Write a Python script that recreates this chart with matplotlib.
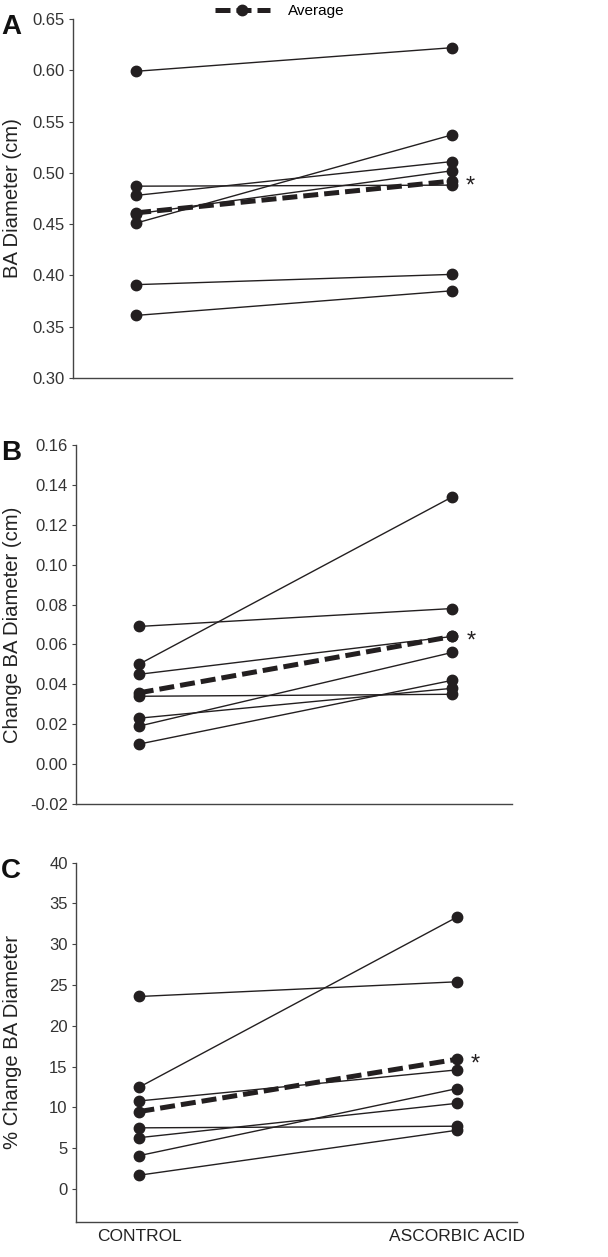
import matplotlib
matplotlib.use("Agg")
import matplotlib.pyplot as plt
from matplotlib.lines import Line2D

plt.rcParams['font.family'] = ['Liberation Sans', 'DejaVu Sans']

conditions = ["CONTROL", "ASCORBIC ACID"]

# Panel A: BA diameter (cm)
a_control = [0.599, 0.487, 0.478, 0.460, 0.451, 0.391, 0.361]
a_ascorbic = [0.622, 0.488, 0.511, 0.502, 0.537, 0.401, 0.385]
a_avg = [0.461, 0.492]

# Panel B: change BA diameter (cm)
b_control = [0.069, 0.050, 0.045, 0.034, 0.023, 0.019, 0.010]
b_ascorbic = [0.078, 0.134, 0.064, 0.035, 0.038, 0.056, 0.042]
b_avg = [0.0357, 0.064]

# Panel C: % change BA diameter
c_control = [23.6, 12.5, 10.8, 7.5, 6.3, 4.1, 1.7]
c_ascorbic = [25.4, 33.3, 14.6, 7.7, 10.5, 12.3, 7.2]
c_avg = [9.5, 15.9]

a_ticks = [0.30, 0.35, 0.40, 0.45, 0.50, 0.55, 0.60, 0.65]
b_ticks = [-0.02, 0.00, 0.02, 0.04, 0.06, 0.08, 0.10, 0.12, 0.14, 0.16]
c_ticks = [0, 5, 10, 15, 20, 25, 30, 35, 40]

col = '#231f20'
fig = plt.figure(figsize=(6.08, 12.57), dpi=100)

panels = [
    dict(pos=[0.120, 0.6993, 0.722, 0.2856], ctrl=a_control, aa=a_ascorbic, avg=a_avg,
         ticks=a_ticks, ylim=(0.30, 0.65), fmt="{:.2f}", ylabel="BA Diameter (cm)", letter="A"),
    dict(pos=[0.125, 0.3604, 0.717, 0.2856], ctrl=b_control, aa=b_ascorbic, avg=b_avg,
         ticks=b_ticks, ylim=(-0.02, 0.16), fmt="{:.2f}", ylabel="Change BA Diameter (cm)", letter="B"),
    dict(pos=[0.125, 0.0281, 0.725, 0.2856], ctrl=c_control, aa=c_ascorbic, avg=c_avg,
         ticks=c_ticks, ylim=(-4, 40), fmt="int", ylabel="% Change BA Diameter", letter="C"),
]

dash = (0, (3, 1.2))
x = [0, 1]
for i, p in enumerate(panels):
    ax = fig.add_axes(p['pos'])
    for c0, c1 in zip(p['ctrl'], p['aa']):
        ax.plot(x, [c0, c1], color=col, lw=1.0, marker='o', ms=7.5, zorder=2)
    ax.plot(x, p['avg'], color=col, lw=3.6, ls=dash, marker='o', ms=7.5, zorder=3)
    ax.annotate('*', xy=(1, p['avg'][1]), xytext=(10, -4), textcoords='offset points',
                fontsize=17, color=col, ha='left', va='center')
    ax.set_xlim(-0.2, 1.19)
    ax.set_ylim(*p['ylim'])
    ax.set_yticks(p['ticks'])
    if p['fmt'] == 'int':
        labels = [str(int(t)) for t in p['ticks']]
    else:
        labels = [p['fmt'].format(t) for t in p['ticks']]
    ax.set_yticklabels(labels)
    for s in ['top', 'right']:
        ax.spines[s].set_visible(False)
    for s in ['left', 'bottom']:
        ax.spines[s].set_color('#444444')
        ax.spines[s].set_linewidth(1.0)
    ax.tick_params(axis='y', direction='out', length=3, width=0.8, colors='#444444',
                   labelsize=12, labelcolor='#333333', pad=3)
    if i < 2:
        ax.set_xticks([])
    else:
        ax.set_xticks(x)
        ax.set_xticklabels(conditions, fontsize=12.5, color='#222222')
        ax.tick_params(axis='x', length=0, pad=5)
    ax.set_ylabel(p['ylabel'], fontsize=14.6, color='#222222')
    axw = p['pos'][2] * 608
    ax.yaxis.set_label_coords((13 - p['pos'][0] * 608) / axw, 0.5)
    ax.yaxis.label.set_va('center')
    fig.text(0.002, p['pos'][1] + p['pos'][3] + 0.004, p['letter'], fontsize=20,
             fontweight='bold', color='#111111', ha='left', va='top')

handle = Line2D([], [], color=col, lw=3.6, ls=dash, marker='o', ms=7.5)
fig.legend([handle], ['Average'], loc='upper center', bbox_to_anchor=(0.46, 1.004),
           frameon=False, fontsize=11, handlelength=3.6, handletextpad=1.2,
           numpoints=1, borderpad=0.1)

fig.savefig('out.png', dpi=100)
